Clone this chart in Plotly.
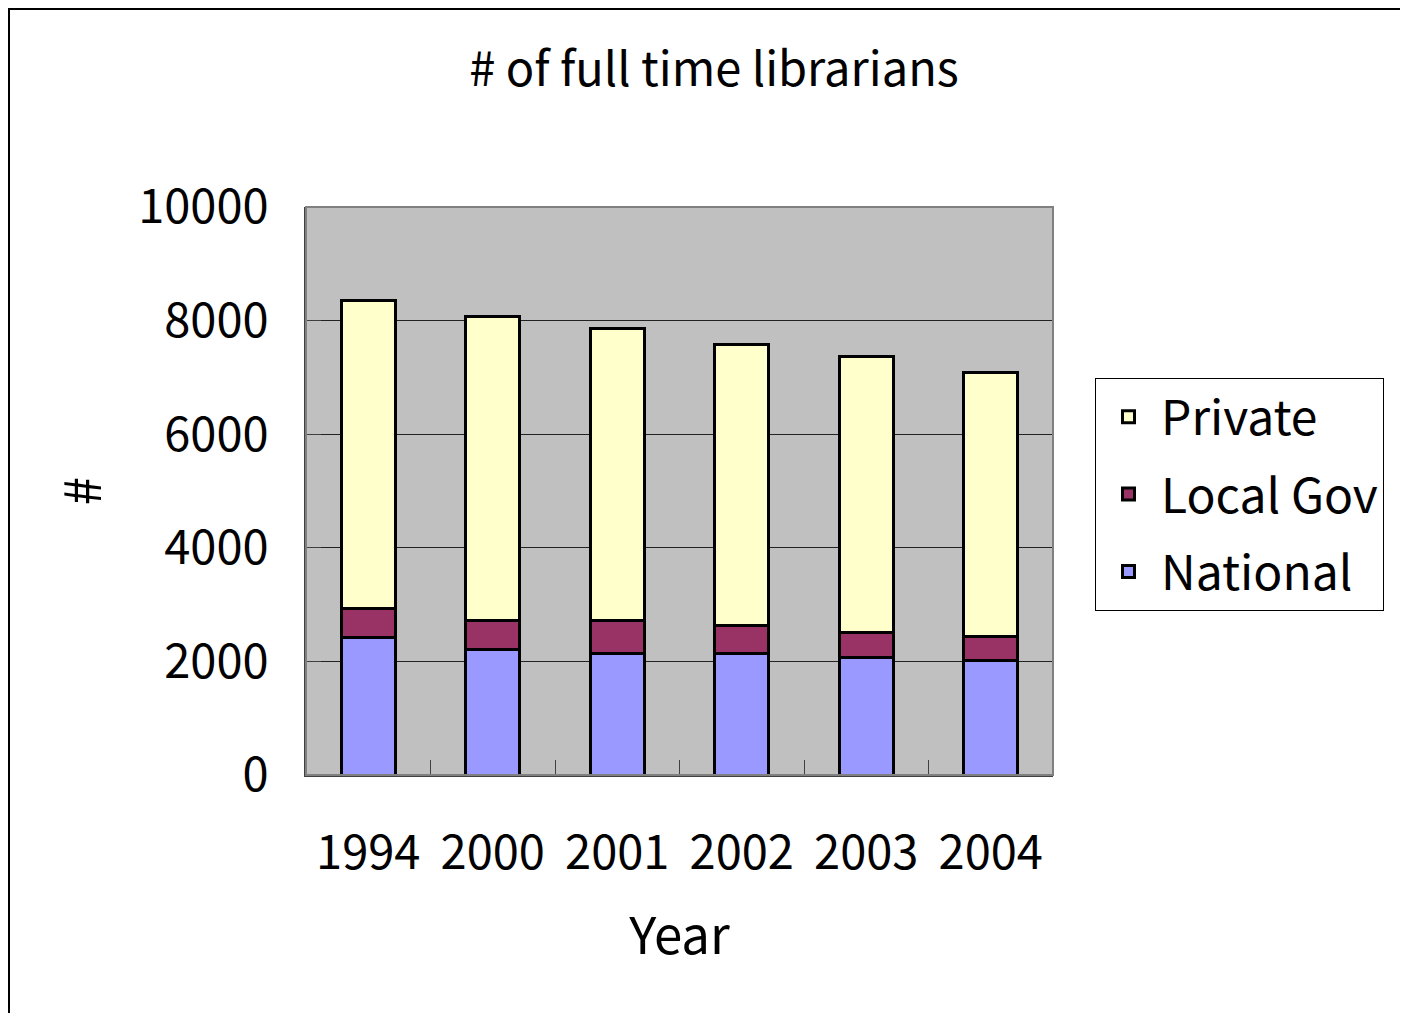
import plotly.graph_objects as go

years = ["1994", "2000", "2001", "2002", "2003", "2004"]
national = [2420, 2215, 2145, 2145, 2075, 2010]
local_gov = [510, 500, 570, 495, 430, 420]
private = [5420, 5355, 5145, 4945, 4855, 4660]

FONT = "Noto Sans CJK JP"
# the page body adds an 8px margin, so everything is placed 8px up/left
OFF = 8
W, H = 1408 - OFF, 1013 - OFF
# plot area in page pixels
L, R, T, B = 306 - OFF, 1053 - OFF, 207 - OFF, 775 - OFF

fig = go.Figure()
for rank, (name, vals, color) in enumerate([("National", national, "#9999FF"),
                                            ("Local Gov", local_gov, "#993366"),
                                            ("Private", private, "#FFFFCC")]):
    fig.add_trace(go.Bar(x=years, y=vals, name=name, legendgroup=name, legendrank=3 - rank,
                         marker=dict(color=color, line=dict(color="black", width=3))))

pw, ph = R - L, B - T
fig.add_shape(type="rect", xref="paper", yref="paper",
              x0=(1 - L) / pw, x1=(W + 5 - L) / pw,
              y0=(B - (H + 5)) / ph, y1=1 + (T - 1) / ph,
              line=dict(color="black", width=2), layer="below")
fig.add_shape(type="rect", xref="paper", yref="paper", x0=0, x1=1, y0=0, y1=1,
              line=dict(color="#808080", width=2), layer="above")

fig.update_layout(
    width=W, height=H,
    margin=dict(l=L, r=W - R, t=T, b=H - B, autoexpand=False),
    barmode="stack", bargap=0.57,
    paper_bgcolor="white", plot_bgcolor="#C0C0C0",
    font=dict(family=FONT, size=47, color="black"),
    title=dict(text="# of full time librarians", x=(714 - OFF) / W, xanchor="center",
               y=1 - (70 - OFF) / H, yanchor="middle", font=dict(size=47)),
    legend=dict(x=(1095 - L - OFF) / pw, xanchor="left", y=1 - (378 - T - OFF) / ph, yanchor="top",
                bordercolor="black", borderwidth=1, bgcolor="white",
                traceorder="grouped", tracegroupgap=12, itemwidth=55,
                font=dict(size=48)),
    showlegend=True,
)
fig.update_xaxes(title=dict(text="Year", standoff=36, font=dict(size=51)),
                 showline=True, linecolor="#404040", linewidth=2,
                 ticks="inside", tickson="boundaries", ticklen=15, tickcolor="#404040",
                 ticklabelstandoff=36, showgrid=False)
fig.update_yaxes(title=dict(text="#", standoff=20, font=dict(size=51)),
                 range=[0, 10000], dtick=2000, tickformat="d",
                 showline=True, linecolor="#404040", linewidth=2,
                 ticks="inside", ticklen=15, tickcolor="#404040",
                 ticklabelstandoff=26, showgrid=True, gridcolor="#222222", gridwidth=1,
                 zeroline=False)

fig.write_html("out.html")
